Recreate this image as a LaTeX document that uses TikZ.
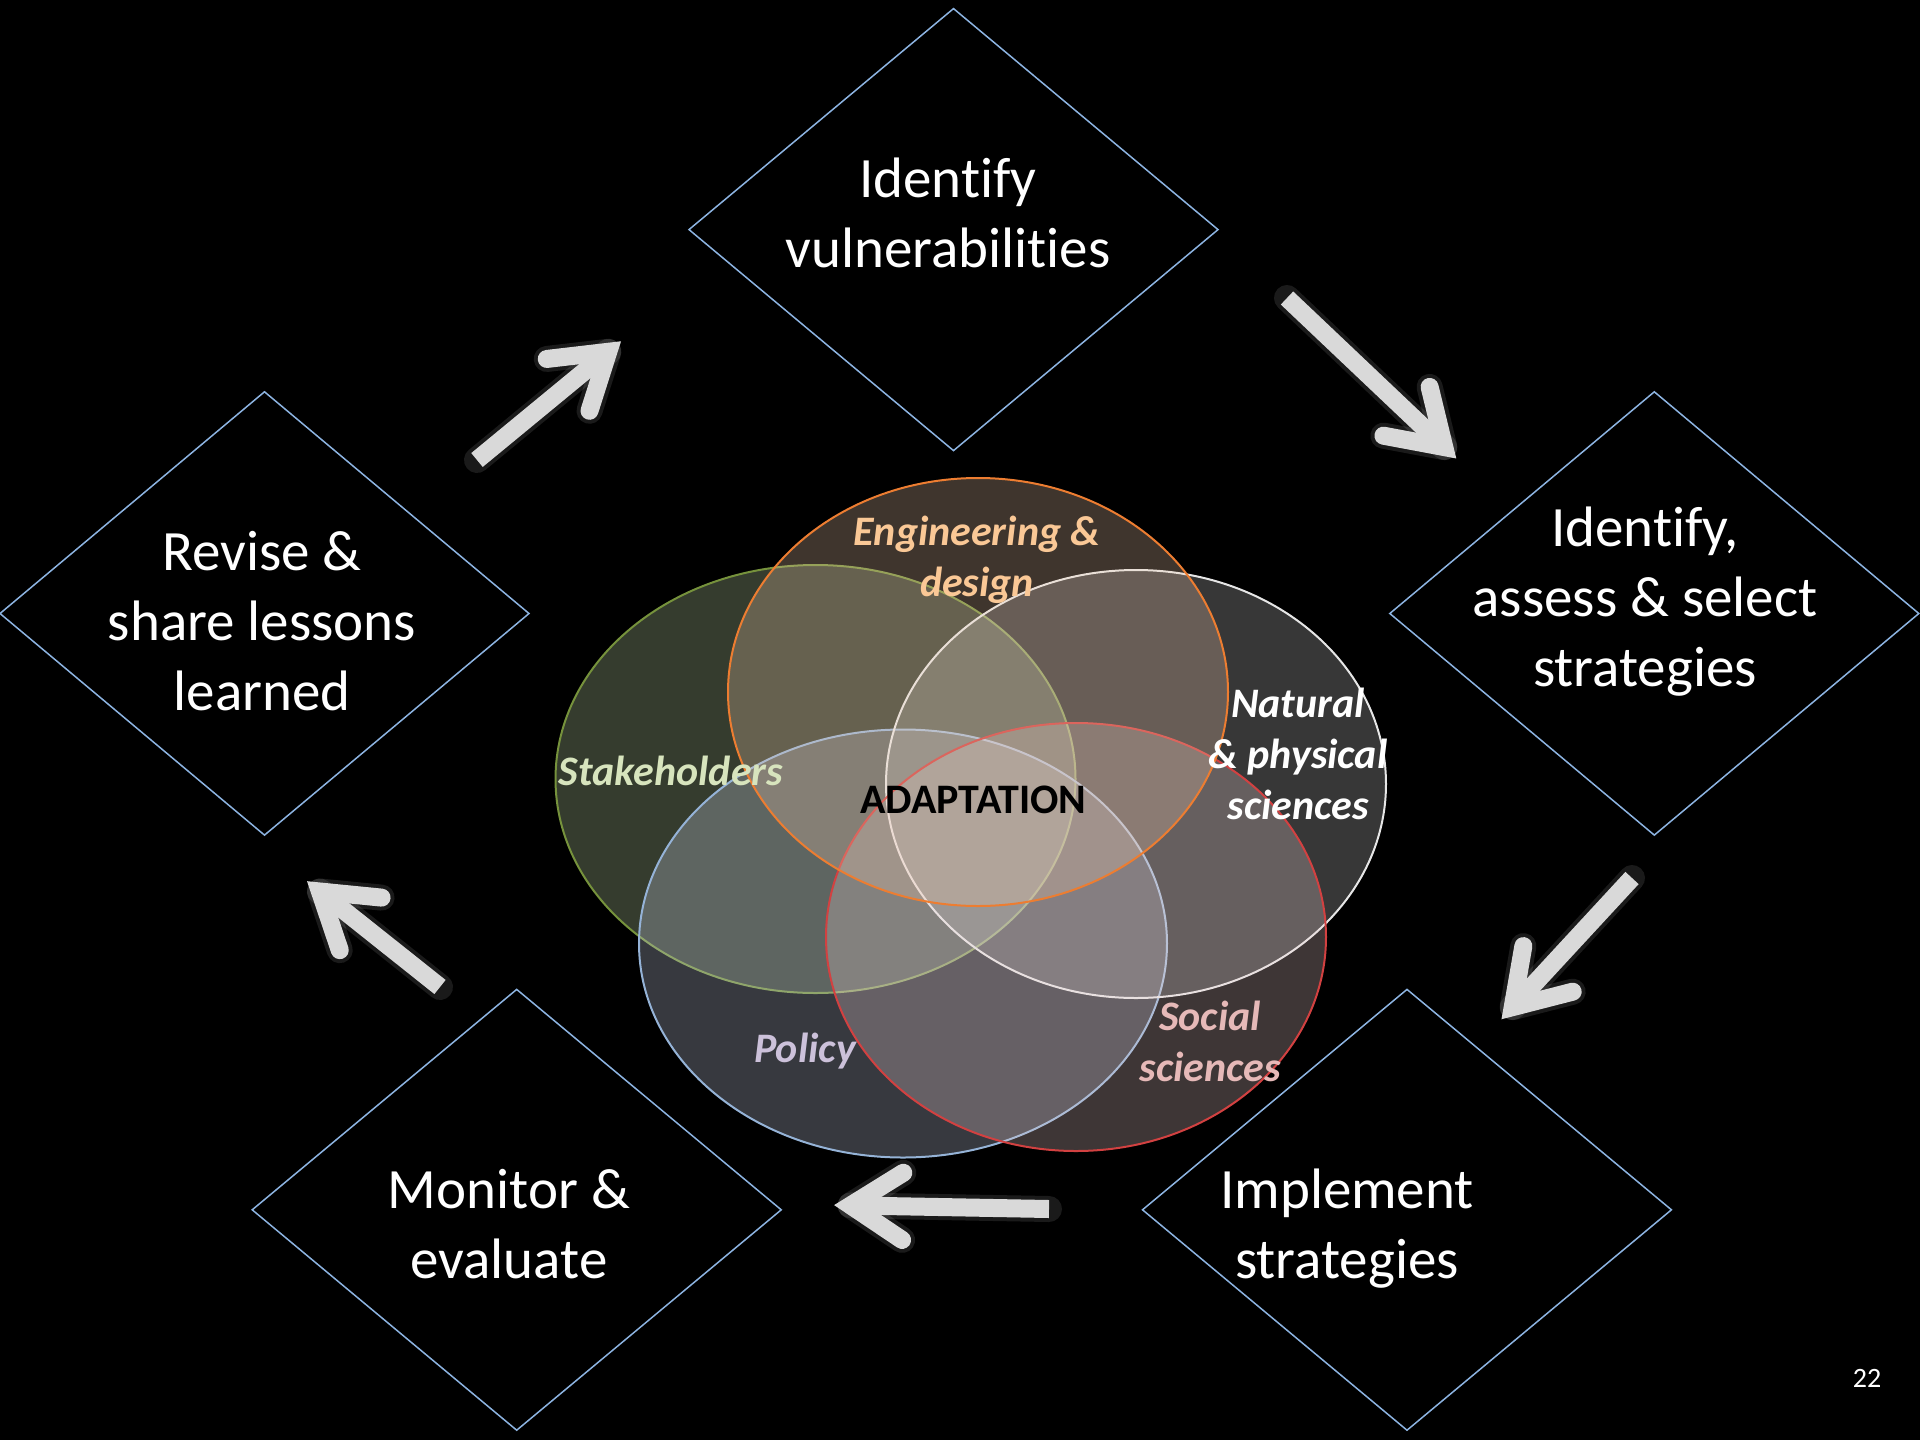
\documentclass[tikz,border=0pt]{standalone}
\usepackage{fontspec}
\setmainfont{Carlito}[Ligatures={NoCommon}]
\usetikzlibrary{calc}
\definecolor{diamc}{RGB}{141,180,226}
\definecolor{arrc}{RGB}{217,217,217}
\definecolor{engS}{RGB}{237,125,49}
\definecolor{engF}{RGB}{245,205,175}
\definecolor{engT}{RGB}{250,200,150}
\definecolor{stkS}{RGB}{118,146,60}
\definecolor{stkF}{RGB}{205,235,180}
\definecolor{stkT}{RGB}{215,228,189}
\definecolor{natS}{RGB}{230,230,230}
\definecolor{natF}{RGB}{215,215,215}
\definecolor{polS}{RGB}{149,179,215}
\definecolor{polF}{RGB}{215,222,245}
\definecolor{polT}{RGB}{204,193,218}
\definecolor{socS}{RGB}{210,65,65}
\definecolor{socF}{RGB}{240,210,210}
\definecolor{socT}{RGB}{230,185,184}
\tikzset{
  diam/.style={draw=diamc, line width=1.5pt},
  dtext/.style={text=white, align=center, inner sep=0pt, font=\fontsize{57}{70}\selectfont},
  vtext/.style={align=center, inner sep=0pt, font=\fontsize{42}{51}\selectfont\bfseries\itshape},
  venn/.style={line width=2pt, fill opacity=0.26},
  arrbody/.style={draw=arrc, line width=18pt},
  arrglow/.style={draw=white, line width=26pt, opacity=0.10},
}
\newcommand\garrow[3]{%
  \coordinate (#3s) at #1;
  \coordinate (#3t) at #2;
  \coordinate (#3v) at ($(#3t)!21.7pt!(#3s)$);
  \coordinate (#3a) at ($(#3t)!81pt!24.5:(#3s)$);
  \coordinate (#3b) at ($(#3t)!81pt!-24.5:(#3s)$);
  \draw[arrglow, line join=round, line cap=round] (#3s) -- (#3v);
  \draw[arrglow, line cap=round, line join=round] (#3a) -- (#3v) -- (#3b);
  \draw[arrbody, line cap=butt] (#3s) -- (#3v);
  \draw[arrbody, line cap=round, line join=miter, miter limit=10] (#3a) -- (#3v) -- (#3b);
}
\begin{document}
\begin{tikzpicture}[x=1pt, y=-1pt]
\fill[black] (0,0) rectangle (1920,1440);
\useasboundingbox (0,0) rectangle (1920,1440);

% diamonds
\draw[diam] (689,229.6) -- (953.5,8.6) -- (1218,229.6) -- (953.5,450.6) -- cycle;
\draw[diam] (1389.8,613.5) -- (1654.3,391.8) -- (1918.8,613.5) -- (1654.3,835.1) -- cycle;
\draw[diam] (0,613.5) -- (264.5,391.8) -- (529,613.5) -- (264.5,835.1) -- cycle;
\draw[diam] (252.2,1209.8) -- (516.7,989.4) -- (781.2,1209.8) -- (516.7,1430.2) -- cycle;
\draw[diam] (1142.5,1209.8) -- (1407,989.4) -- (1671.4,1209.8) -- (1407,1430.2) -- cycle;

\node[dtext] (top) at (948,213) {Identify\\vulnerabilities};
\node[dtext] (right) at (1645,602) {Identify,\\assess \& select\\strategies};
\node[dtext] (left) at (262,621) {Revise \&\\share lessons\\learned};
\node[dtext] (bl) at (509,1224) {Monitor \&\\evaluate};
\node[dtext] (br) at (1347,1229) {Implement\\strategies};

% venn
\draw[venn, draw=stkS, fill=stkF] (815.5,779) ellipse [x radius=260, y radius=214];
\draw[venn, draw=polS, fill=polF] (903,943.5) ellipse [x radius=264, y radius=214];
\draw[venn, draw=natS, fill=natF] (1136,784) ellipse [x radius=250, y radius=214];
\draw[venn, draw=socS, fill=socF] (1076,937) ellipse [x radius=250, y radius=214];
\draw[venn, draw=engS, fill=engF] (978,692) ellipse [x radius=250, y radius=214];

\node[vtext, text=engT] (eng) at (977,560) {Engineering \&\\design};
\node[vtext, text=stkT] (stk) at (671,771) {Stakeholders};
\node[vtext, text=white] (nat) at (1298,754) {Natural\\\& physical\\sciences};
\node[vtext, text=polT] (pol) at (805,1051) {Policy};
\node[vtext, text=socT] (soc) at (1210,1041) {Social\\sciences};
\node[inner sep=0pt, font=\fontsize{42}{48}\selectfont\bfseries, text=black] (adapt) at (973.5,800) {ADAPTATION};

% arrows
\garrow{(477,460)}{(625,338)}{A}
\garrow{(1287,298)}{(1460,462)}{B}
\garrow{(1632,878)}{(1498,1023)}{C}
\garrow{(1049,1209)}{(829,1205)}{D}
\garrow{(440,987)}{(303,878)}{E}

\node[text=white, inner sep=0pt, font=\fontsize{28}{34}\selectfont] (pg) at (1867,1378) {22};
\end{tikzpicture}
\end{document}
